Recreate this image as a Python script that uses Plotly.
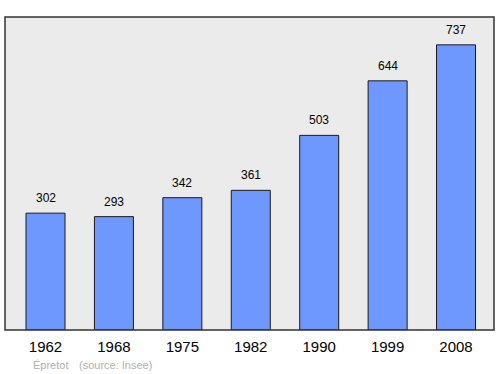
import plotly.graph_objects as go

years = ["1962", "1968", "1975", "1982", "1990", "1999", "2008"]
population = [302, 293, 342, 361, 503, 644, 737]
commune = "Épretot"
source = "(source: Insee)"

xpos = list(range(len(years)))
FONT = "Liberation Sans, Arial, sans-serif"

fig = go.Figure()
fig.add_trace(go.Bar(
    x=xpos, y=population, width=0.57,
    marker=dict(color="#6f98ff", line=dict(color="#1a1a1a", width=1)),
    hoverinfo="skip",
))
for x, v in zip(xpos, population):
    fig.add_annotation(x=x, y=v, text=str(v), showarrow=False, yanchor="middle",
                       yshift=15, font=dict(family=FONT, size=12, color="#000"))

fig.update_layout(
    width=500, height=374,
    margin=dict(l=5, r=6, t=17, b=44),
    paper_bgcolor="white", plot_bgcolor="#ebebeb",
    showlegend=False,
    xaxis=dict(range=[-0.592, 6.555], tickmode="array", tickvals=xpos, ticktext=years,
               showgrid=False, zeroline=False, ticks="", ticklen=0, ticklabelstandoff=6,
               tickfont=dict(family=FONT, size=15, color="#000")),
    yaxis=dict(range=[0, 809], showgrid=False, zeroline=False, showticklabels=False, ticks=""),
)
fig.add_shape(type="rect", xref="paper", yref="paper", x0=0, x1=1, y0=0, y1=1,
              line=dict(color="#333333", width=1.5), fillcolor="rgba(0,0,0,0)", layer="above")
fig.add_annotation(xref="paper", yref="paper", x=(31-5)/489, y=-(364.5-330)/313,
                   xanchor="left", yanchor="middle", showarrow=False, text=commune,
                   font=dict(family=FONT, size=11, color="#b0b0b0"))
fig.add_annotation(xref="paper", yref="paper", x=(77-5)/489, y=-(364.5-330)/313,
                   xanchor="left", yanchor="middle", showarrow=False, text=source,
                   font=dict(family=FONT, size=11, color="#b0b0b0"))

fig.write_html("out.html")
